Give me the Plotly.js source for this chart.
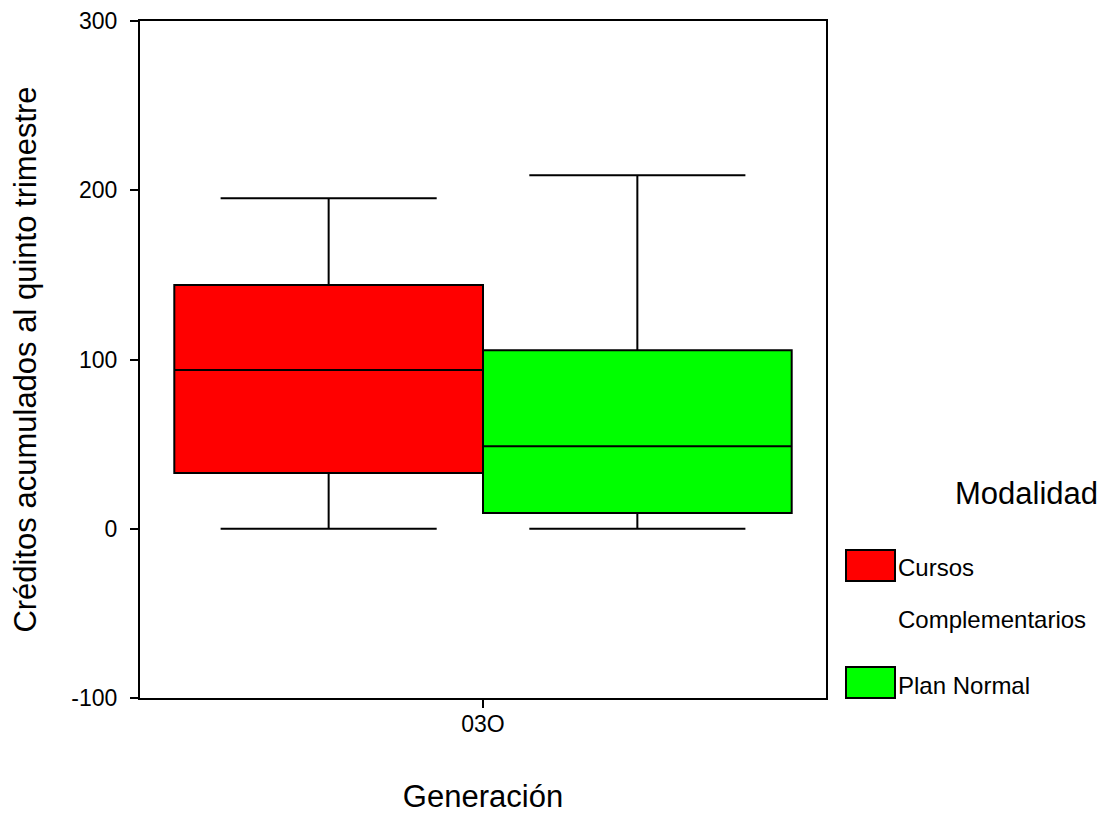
<!DOCTYPE html>
<html>
<head>
<meta charset="utf-8">
<script src="https://cdn.plot.ly/plotly-3.0.1.min.js"></script>
<style>
html, body { margin: 0; padding: 0; background: #fff; }
#chart { width: 1102px; height: 814px; }
</style>
</head>
<body>
<div id="chart"></div>
<script>
const categories = ["03O"];
const seriesNames = ["Cursos Complementarios", "Plan Normal"];
const seriesColors = ["#FF0000", "#00FF00"];
const lowerFence = [[0], [0]];
const q1Values = [[33], [9.3]];
const medianValues = [[93.8], [48.7]];
const q3Values = [[144], [105.5]];
const upperFence = [[195.3], [208.9]];
const yTickValues = [-100, 0, 100, 200, 300];
const yTickLabels = ["-100", "0", "100", "200", "300"];
const legendLines = [["Cursos", "Complementarios"], ["Plan Normal"]];

const traces = seriesNames.map((name, i) => ({
  type: "box",
  name: name,
  x: categories,
  q1: q1Values[i],
  median: medianValues[i],
  q3: q3Values[i],
  lowerfence: lowerFence[i],
  upperfence: upperFence[i],
  boxpoints: false,
  fillcolor: seriesColors[i],
  line: { color: "#000000", width: 2 },
  whiskerwidth: 0.7,
  hoverinfo: "skip"
}));

// Plot area in pixels: x 140..826, y 21..698
const L = 140, R = 826, T = 21, B = 698;
const px = v => (v - L) / (R - L);
const py = v => (B - v) / (B - T);

const shapes = [];
const annotations = [];
// Custom legend (SPSS-style)
const swatchTops = [550, 667];
const labelYs = [[567, 619], [685]];
seriesNames.forEach((n, i) => {
  shapes.push({
    type: "rect", xref: "paper", yref: "paper",
    x0: px(846), x1: px(895), y0: py(swatchTops[i] + 31), y1: py(swatchTops[i]),
    fillcolor: seriesColors[i], line: { color: "#000", width: 2 }
  });
  legendLines[i].forEach((t, j) => {
    annotations.push({
      xref: "paper", yref: "paper", x: px(896), y: py(labelYs[i][j]),
      xanchor: "left", yanchor: "middle", text: t, showarrow: false,
      font: { size: 24, color: "#000" }
    });
  });
});
annotations.push({
  xref: "paper", yref: "paper", x: px(1100), y: py(493),
  xanchor: "right", yanchor: "middle", text: "Modalidad", showarrow: false,
  font: { size: 31, color: "#000" }
});

const layout = {
  width: 1102, height: 814,
  margin: { l: L, r: 1102 - R, t: T, b: 814 - B },
  paper_bgcolor: "#fff", plot_bgcolor: "#fff",
  font: { family: "Liberation Sans, Arial, sans-serif", color: "#000" },
  boxmode: "group", boxgap: 0.1, boxgroupgap: 0,
  showlegend: false,
  xaxis: {
    type: "category",
    showgrid: false, zeroline: false,
    showline: true, linecolor: "#000", linewidth: 2, mirror: true,
    ticks: "outside", ticklen: 8, tickwidth: 2, tickcolor: "#000",
    tickfont: { size: 23 },
    ticklabelstandoff: -4,
    title: { text: "Generación", font: { size: 31 }, standoff: 58 },
    automargin: false
  },
  yaxis: {
    range: [-100, 300],
    tickmode: "array", tickvals: yTickValues, ticktext: yTickLabels,
    showgrid: false, zeroline: false,
    showline: true, linecolor: "#000", linewidth: 2, mirror: true,
    ticks: "outside", ticklen: 8, tickwidth: 2, tickcolor: "#000",
    tickfont: { size: 23 },
    ticklabelstandoff: 8,
    title: { text: "Créditos acumulados al quinto trimestre", font: { size: 31 }, standoff: 26 },
    automargin: false
  },
  shapes: shapes,
  annotations: annotations
};

Plotly.newPlot("chart", traces, layout, { displayModeBar: false, staticPlot: true });
</script>
</body>
</html>
